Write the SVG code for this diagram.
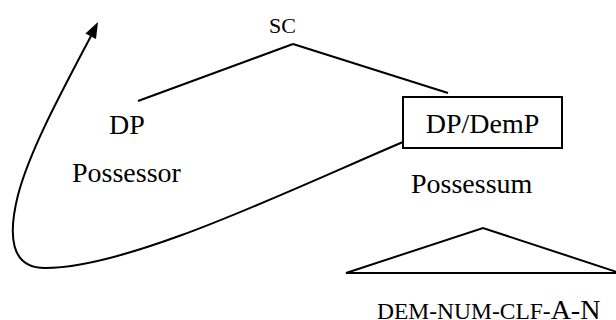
<svg xmlns="http://www.w3.org/2000/svg" width="616" height="320" viewBox="0 0 616 320">
<style>
.ln{stroke:#000;stroke-width:2;fill:none}
</style>
<rect width="616" height="320" fill="#fff"/>
<g id="connectors">
<line class="ln" x1="138" y1="101" x2="293" y2="44"/>
<line class="ln" x1="293" y1="44" x2="448" y2="93"/>
<path class="ln" d="M 403 142 C 290 190, 130 268, 45 268 C 10 268, 8 235, 18 195 C 30 150, 60 95, 91 36"/>
<polygon points="98,22 85.4,33.6 96,39" fill="#000"/>
</g>
<g id="sc"><text x="269" y="33" font-family="'Liberation Serif', 'DejaVu Serif', serif" font-size="22">SC</text></g>
<g id="dp"><text x="109" y="134" font-family="'Liberation Serif', 'DejaVu Serif', serif" font-size="28">DP</text></g>
<g id="possessor"><text x="72" y="182" font-family="'Liberation Serif', 'DejaVu Serif', serif" font-size="28">Possessor</text></g>
<g id="dpdemp">
<rect x="403" y="97" width="159" height="51" fill="none" stroke="#000" stroke-width="2"/>
<text x="482.5" y="133" text-anchor="middle" font-family="'Liberation Serif', 'DejaVu Serif', serif" font-size="28">DP/DemP</text>
</g>
<g id="possessum"><text x="411" y="193" font-family="'Liberation Serif', 'DejaVu Serif', serif" font-size="28">Possessum</text></g>
<g id="triangle">
<polygon points="346,273 483,228 620,273" fill="none" stroke="#000" stroke-width="2"/>
</g>
<g id="string"><text x="377" y="319" font-family="'Liberation Serif', 'DejaVu Serif', serif"><tspan font-size="23.5">DEM-NUM-CLF-</tspan><tspan font-size="28">A-N</tspan></text></g>
</svg>
